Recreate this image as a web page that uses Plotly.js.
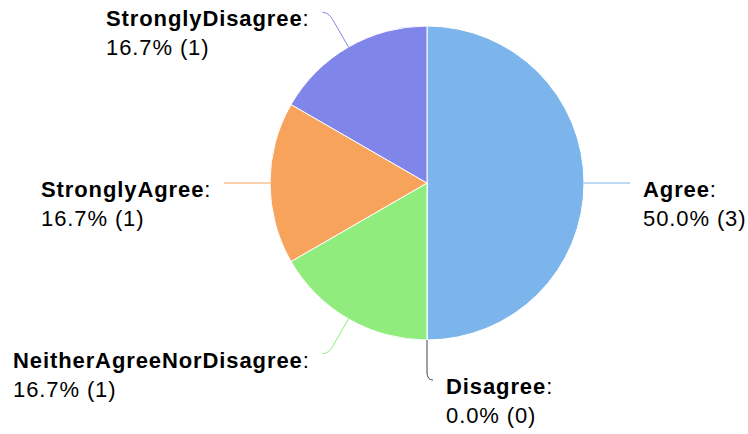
<!DOCTYPE html>
<html>
<head>
<meta charset="utf-8">
<script src="https://cdn.plot.ly/plotly-3.0.1.min.js"></script>
<style>
html,body{margin:0;padding:0;background:#fff;}
#chart{width:748px;height:434px;}
#chart .annotation-text{letter-spacing:0.9px;}
</style>
</head>
<body>
<div id="chart"></div>
<script>
// ---- data ----
var categories = ["Agree", "Disagree", "NeitherAgreeNorDisagree", "StronglyAgree", "StronglyDisagree"];
var counts = [3, 0, 1, 1, 1];
var colors = ["#7cb5ec", "#434348", "#90ed7d", "#f7a35c", "#8085e9"];

// ---- layout constants (pixels) ----
var W = 748, H = 434;
var CX = 427, CY = 183, R = 157;
var LABEL_DIST = 40;   // distance of connector end from pie edge
var CROOK = 6;         // horizontal tail of connector
var GAP_RIGHT = 12, GAP_LEFT = 14;
var LS = 0.9;          // letter spacing
var FAMILY = "Liberation Sans";
var FONT = {family: FAMILY + ", Arial, sans-serif", size: 22, color: "#000000"};

function px2x(px){ return px / W; }
function px2y(py){ return 1 - py / H; }

var cnv = document.createElement("canvas").getContext("2d");
function textW(str, bold){
  cnv.font = (bold ? "bold " : "") + FONT.size + "px '" + FAMILY + "'";
  return cnv.measureText(str).width + str.length * LS;
}

var total = counts.reduce(function(a,b){return a+b;}, 0);

var shapes = [];
var annotations = [];
var cum = 0;
for (var i = 0; i < categories.length; i++) {
  var frac = counts[i] / total;
  var mid = (cum + frac / 2) * 2 * Math.PI; // clockwise from 12 o'clock
  cum += frac;
  var sx = Math.sin(mid), cy = -Math.cos(mid);
  var side = (mid <= Math.PI + 1e-9) ? 1 : -1;
  var P = [CX + R * sx, CY + R * cy];
  var C = [CX + (R + LABEL_DIST) * sx, CY + (R + LABEL_DIST) * cy];
  var E = [C[0] + side * CROOK, C[1]];
  var dx = P[0] - C[0], dy = P[1] - C[1];
  var len = Math.sqrt(dx*dx + dy*dy) || 1;
  var bl = Math.min(8, len);
  var B = [C[0] + dx / len * bl, C[1] + dy / len * bl];
  var path = "M " + px2x(P[0]) + "," + px2y(P[1]) +
             " L " + px2x(B[0]) + "," + px2y(B[1]) +
             " Q " + px2x(C[0]) + "," + px2y(C[1]) + " " + px2x(E[0]) + "," + px2y(E[1]);
  shapes.push({type: "path", xref: "paper", yref: "paper", path: path,
               line: {color: colors[i], width: 1}});
  var pct = (frac * 100).toFixed(1) + "% (" + counts[i] + ")";
  var blockW = Math.max(textW(categories[i], true) + textW(":", false), textW(pct, false));
  var xLeft = side > 0 ? E[0] + GAP_RIGHT - 1 : E[0] - GAP_LEFT - blockW - 1;
  annotations.push({
    xref: "paper", yref: "paper",
    x: px2x(xLeft), y: px2y(E[1] - 8),
    xanchor: "left", yanchor: "top",
    align: "left",
    showarrow: false,
    text: "<b>" + categories[i] + "</b>:<br>" + pct,
    font: FONT
  });
}

var trace = {
  type: "pie",
  labels: categories,
  values: counts,
  sort: false,
  direction: "clockwise",
  rotation: 0,
  marker: {colors: colors, line: {color: "#ffffff", width: 1}},
  textinfo: "none",
  hoverinfo: "none",
  showlegend: false,
  domain: {x: [px2x(CX - R), px2x(CX + R)], y: [px2y(CY + R), px2y(CY - R)]}
};

var layout = {
  width: W, height: H,
  margin: {l: 0, r: 0, t: 0, b: 0},
  paper_bgcolor: "#ffffff",
  showlegend: false,
  shapes: shapes,
  annotations: annotations
};

Plotly.newPlot("chart", [trace], layout, {displayModeBar: false, staticPlot: true});
</script>
</body>
</html>
